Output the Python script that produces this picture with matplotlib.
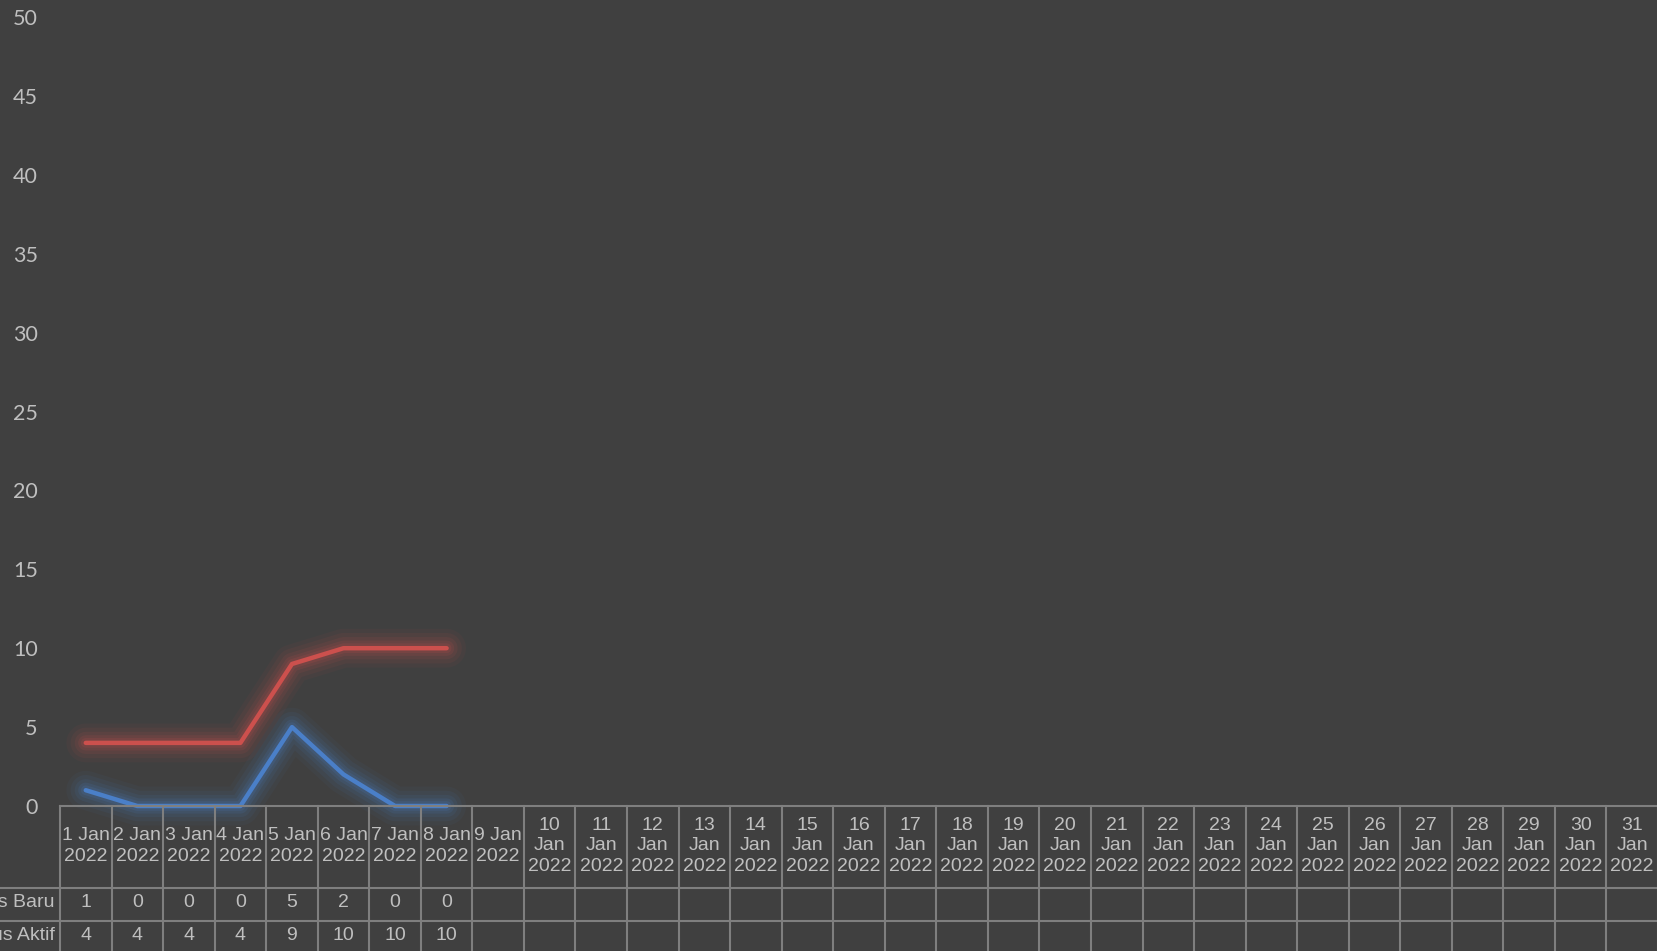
import matplotlib.pyplot as plt

# data
days = [str(d) for d in range(1, 32)]
kasus_baru = [1, 0, 0, 0, 5, 2, 0, 0]
kasus_aktif = [4, 4, 4, 4, 9, 10, 10, 10]
row_names = ["Kasus Baru", "Kasus Aktif"]
y_ticks = [0, 5, 10, 15, 20, 25, 30, 35, 40, 45, 50]

BG = "#404040"
TXT = "#bfbfbf"
GRID = "#7f7f7f"
RED = "#cc504d"
BLUE = "#4a7fc8"
W, H = 1658, 951
tfont = ["Liberation Sans", "DejaVu Sans"]
TS = 14

fig = plt.figure(figsize=(W / 100, H / 100), dpi=100, facecolor=BG)

# main plot area, in pixels: x 60..1658, y 806 (zero) .. 17 (fifty)
ax = fig.add_axes([60 / W, 1 - 806 / H, (W - 60) / W, (806 - 17) / H])
ax.set_facecolor(BG)
for s in ax.spines.values():
    s.set_visible(False)
ax.set_xlim(-0.5, len(days) - 0.5)
ax.set_ylim(0, 50)
ax.set_yticks(y_ticks)
ax.set_xticks([])
ax.tick_params(axis="y", length=0, pad=16, colors=TXT, labelsize=15.5)
for lab in ax.get_yticklabels():
    lab.set_fontfamily(["Lato", "DejaVu Sans"])

xs = list(range(len(kasus_baru)))
for ys, col in [(kasus_aktif, RED), (kasus_baru, BLUE)]:
    # soft glow
    for lw, a in [(28, 0.05), (22, 0.07), (16, 0.09), (11, 0.12), (7, 0.15)]:
        ax.plot(xs, ys, color=col, lw=lw, alpha=a, solid_capstyle="round",
                solid_joinstyle="round", clip_on=False)
    ax.plot(xs, ys, color=col, lw=3.2, solid_capstyle="round",
            solid_joinstyle="round", clip_on=False, zorder=5)

# data table under the plot, y in pixel rows
tb = fig.add_axes([60 / W, 1 - 954 / H, (W - 60) / W, (954 - 806) / H], sharex=ax)
tb.set_facecolor(BG)
tb.axis("off")
tb.set_ylim(954, 806)
n = len(days)
lk = dict(color=GRID, lw=1.5, clip_on=False)
tb.plot([-0.5, n - 0.5], [806, 806], **lk)
for yy in [888, 921]:
    tb.plot([-1.8, n - 0.5], [yy, yy], **lk)
for i in range(n + 1):
    tb.plot([i - 0.5, i - 0.5], [806, 960], **lk)

for i, d in enumerate(days):
    if len(d) == 1:
        lbl = d + " Jan\n2022"
    else:
        lbl = d + "\nJan\n2022"
    tb.text(i, 846, lbl, ha="center", va="center", color=TXT, fontsize=TS,
            family=tfont, linespacing=1.25)

row_y = [903, 936]
for name, vals, yy in zip(row_names, [kasus_baru, kasus_aktif], row_y):
    tb.text(-0.6, yy, name, ha="right", va="center", color=TXT, fontsize=TS,
            family=tfont, clip_on=False)
    for i, v in enumerate(vals):
        tb.text(i, yy, str(v), ha="center", va="center", color=TXT,
                fontsize=TS, family=tfont)

fig.savefig("out.png", dpi=100, facecolor=BG)
